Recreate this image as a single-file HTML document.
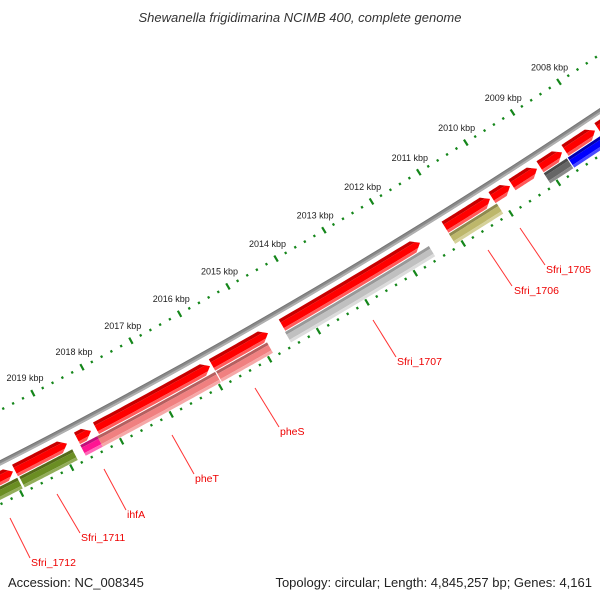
<!DOCTYPE html>
<html><head><meta charset="utf-8">
<style>
html,body{margin:0;padding:0;background:#fff;}
svg{display:block;}
text{font-family:"Liberation Sans",sans-serif;}
</style></head>
<body>
<svg id="s" width="600" height="600" viewBox="0 0 600 600" xmlns="http://www.w3.org/2000/svg">
<rect width="600" height="600" fill="#fff"/>
<g id="g"></g>
<text x="300" y="22" text-anchor="middle" font-size="13" font-style="italic" fill="#333">Shewanella frigidimarina NCIMB 400, complete genome</text>
<text x="8" y="587" font-size="13" fill="#222">Accession: NC_008345</text>
<text x="592" y="587" text-anchor="end" font-size="13" fill="#222">Topology: circular; Length: 4,845,257 bp; Genes: 4,161</text>
<g fill="#e00" font-size="10.5">
<line x1="520" y1="228" x2="545" y2="265" stroke="#f33" stroke-width="1"/><text x="546" y="273">Sfri_1705</text>
<line x1="488" y1="250" x2="512" y2="286" stroke="#f33" stroke-width="1"/><text x="514" y="294">Sfri_1706</text>
<line x1="373" y1="320" x2="396" y2="357" stroke="#f33" stroke-width="1"/><text x="397" y="365">Sfri_1707</text>
<line x1="255" y1="388" x2="279" y2="427" stroke="#f33" stroke-width="1"/><text x="280" y="435">pheS</text>
<line x1="172" y1="435" x2="194" y2="474" stroke="#f33" stroke-width="1"/><text x="195" y="482">pheT</text>
<line x1="104" y1="469" x2="126" y2="510" stroke="#f33" stroke-width="1"/><text x="127" y="518">ihfA</text>
<line x1="57" y1="494" x2="80" y2="533" stroke="#f33" stroke-width="1"/><text x="81" y="541">Sfri_1711</text>
<line x1="10" y1="518" x2="30" y2="558" stroke="#f33" stroke-width="1"/><text x="31" y="566">Sfri_1712</text>
</g>
</svg>
<script>
(function(){
var NS="http://www.w3.org/2000/svg",g=document.getElementById("g");
function circ(a,b,c){var ax=a[0],ay=a[1],bx=b[0],by=b[1],cx=c[0],cy=c[1];
var d=2*(ax*(by-cy)+bx*(cy-ay)+cx*(ay-by));
var ux=((ax*ax+ay*ay)*(by-cy)+(bx*bx+by*by)*(cy-ay)+(cx*cx+cy*cy)*(ay-by))/d;
var uy=((ax*ax+ay*ay)*(cx-bx)+(bx*bx+by*by)*(ax-cx)+(cx*cx+cy*cy)*(bx-ax))/d;return [ux,uy];}
var C=circ([0,463],[300,299],[600,111]),CX=C[0],CY=C[1];
function dist(p){return Math.hypot(p[0]-CX,p[1]-CY);}
function pt(r,t){return [CX+r*Math.cos(t),CY+r*Math.sin(t)];}
function tx(x,r){return Math.acos((x-CX)/r);}
var R0=dist([300,299]);
function el(n,a){var e=document.createElementNS(NS,n);for(var k in a)e.setAttribute(k,a[k]);g.appendChild(e);return e;}
function arcPts(r,t1,t2,n){var p=[];for(var i=0;i<=n;i++){var t=t1+(t2-t1)*i/n;p.push(pt(r,t));}return p;}
function poly(p,fill){el("polygon",{points:p.map(function(q){return q[0].toFixed(2)+","+q[1].toFixed(2)}).join(" "),fill:fill});}
function band(r1,r2,t1,t2,fill){var a=arcPts(r1,t1,t2,30),b=arcPts(r2,t2,t1,30);poly(a.concat(b),fill);}
var tL=tx(-20,R0),tR=tx(640,R0);
band(R0-2.5,R0+2.5,tL,tR,"#8a8a8a");
band(R0+0.5,R0+2.5,tL,tR,"#b0b0b0");
band(R0-2.5,R0-1.5,tL,tR,"#777");
var rRed=R0+13.5,rB2=R0+27;
function arrow(x1,x2,cols){var r=rRed,w=13,ri=r-w/2,ro=r+w/2;
var ts=tx(x1,r),te=tx(x2,r),h=8/r;
var tb=te+h; if(tb>ts)tb=ts;
var parts=[[ri,ri+3.5,cols[0]],[ri+3.5,ro-3,cols[1]],[ro-3,ro,cols[2]]];
parts.forEach(function(pp){var a=pp[0],b=pp[1];
var pa=arcPts(a,ts,tb,20),pb=arcPts(b,tb,ts,20);
var ea=pt(a,te+h*Math.abs(a-r)/(w/2)),eb=pt(b,te+h*Math.abs(b-r)/(w/2));
var mid=[];if(a<r&&b>r)mid=[pt(r,te)];
poly(pa.concat([ea]).concat(mid).concat([eb]).concat(pb),pp[2]);});}
function rect(x1,x2,cols){var r=rB2,w=12,ri=r-w/2,ro=r+w/2,ts=tx(x1,r),te=tx(x2,r);
band(ri,ri+3,ts,te,cols[0]);band(ri+3,ro-3,ts,te,cols[1]);band(ro-3,ro,ts,te,cols[2]);}
var RED=["#c80000","#ff0000","#ff5a5a"];
[[-8,13],[15,67],[77,91],[96,210],[212,268],[282,420],[445,490],[492,510],[512,537],[540,562],[565,595],[598,650]].forEach(function(a){arrow(a[0],a[1],RED);});
rect(-10,20,["#556b1a","#6b8e23","#93ad5a"]);
rect(22,75,["#556b1a","#6b8e23","#93ad5a"]);
rect(83,100,["#c0107a","#ff1493","#ff6ab8"]);
rect(100,218,["#b56060","#f08080","#f6a8a8"]);
rect(219,270,["#b56060","#f08080","#f6a8a8"]);
rect(288,432,["#999","#c0c0c0","#dcdcdc"]);
rect(452,500,["#8f8a4f","#bdb76b","#d5d19a"]);
rect(547,570,["#4a4a4a","#666","#8a8a8a"]);
rect(571,650,["#0000b0","#0000ff","#4a4aff"]);
var rIn=R0-47,rOut=R0+37,rLab=R0-64;
var t18=tx(82,rIn),t08=tx(559,rIn);
function th(k){return t08+(k-2008)*(t18-t08)/10;}
var GC="#14861a";
for(var k=2005;k<=2022;k+=0.2){var kk=Math.round(k*5)/5,t=th(kk),maj=Math.abs(kk-Math.round(kk))<1e-6;
[rIn,rOut].forEach(function(r){var L=maj?3.5:1.2,a=pt(r-L,t),b=pt(r+L,t);
el("line",{x1:a[0],y1:a[1],x2:b[0],y2:b[1],stroke:GC,"stroke-width":2.2});});
if(maj&&kk>=2008&&kk<=2019){var p=pt(rLab,t);var e=el("text",{x:p[0],y:p[1]+3,"text-anchor":"middle","font-size":"9",fill:"#222"});e.textContent=kk+" kbp";}}
})();
</script>
</body></html>
